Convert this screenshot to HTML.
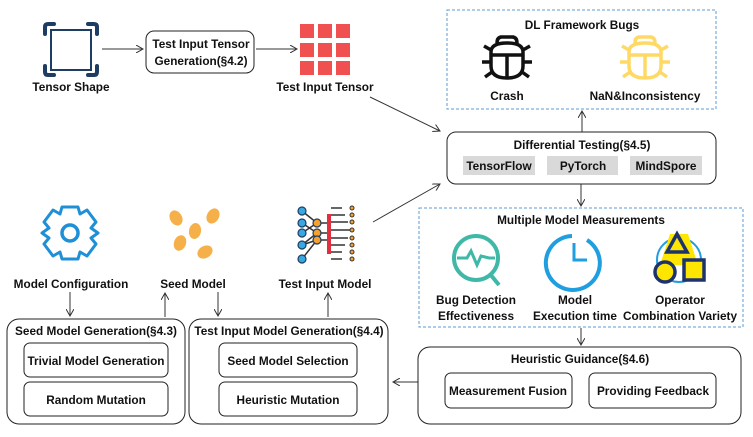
<!DOCTYPE html>
<html><head><meta charset="utf-8"><style>
body{margin:0;background:#fff;}
svg{display:block;font-family:"Liberation Sans",sans-serif;font-weight:bold;}
text{font-size:11.8px;fill:#111;text-anchor:middle;}
</style></head><body>
<svg width="753" height="437" viewBox="0 0 753 437" xmlns="http://www.w3.org/2000/svg">
<defs><marker id="a" markerWidth="8" markerHeight="8" refX="7" refY="4" orient="auto" markerUnits="userSpaceOnUse"><path d="M0,0 L7,4 L0,8" fill="none" stroke="#333" stroke-width="1"/></marker></defs>
<g stroke="#333" stroke-width="1" fill="none" marker-end="url(#a)">
<line x1="102" y1="49" x2="143" y2="49"/>
<line x1="256" y1="49" x2="297" y2="49"/>
<line x1="370" y1="97" x2="440" y2="131"/>
<line x1="373" y1="222" x2="440" y2="184"/>
<line x1="582" y1="132" x2="582" y2="111"/>
<line x1="581" y1="184" x2="581" y2="206"/>
<line x1="581" y1="328" x2="581" y2="345"/>
<line x1="418" y1="382" x2="393" y2="382"/>
<line x1="70" y1="292" x2="70" y2="316"/>
<line x1="165" y1="317" x2="165" y2="293"/>
<line x1="218" y1="292" x2="218" y2="316"/>
<line x1="328" y1="317" x2="328" y2="293"/>
</g>
<rect x="51" y="30" width="40" height="40" fill="none" stroke="#1d3d63" stroke-width="2"/>
<g stroke="#1d3d63" stroke-width="4" fill="none" stroke-linecap="round">
<path d="M45,34 V27 Q45,24 48,24 H54"/><path d="M88,24 H94 Q97,24 97,27 V34"/>
<path d="M45,66 V72 Q45,75 48,75 H54"/><path d="M88,75 H94 Q97,75 97,72 V66"/></g>
<text x="71" y="91">Tensor Shape</text>
<rect x="146" y="31" width="108" height="42" rx="8" fill="#fff" stroke="#222"/>
<text x="201" y="48">Test Input Tensor</text><text x="201" y="65">Generation(§4.2)</text>
<g fill="#f05050">
<rect x="300" y="24" width="14" height="14"/><rect x="318" y="24" width="14" height="14"/><rect x="336" y="24" width="14" height="14"/>
<rect x="300" y="43" width="14" height="14"/><rect x="318" y="43" width="14" height="14"/><rect x="336" y="43" width="14" height="14"/>
<rect x="300" y="61" width="14" height="14"/><rect x="318" y="61" width="14" height="14"/><rect x="336" y="61" width="14" height="14"/></g>
<text x="325" y="91">Test Input Tensor</text>
<rect x="447" y="10" width="269" height="99" fill="none" stroke="#5b9bd5" stroke-dasharray="3,2"/>
<text x="582" y="29">DL Framework Bugs</text>
<g fill="none" stroke-width="3.5">
<g stroke="#111"><path d="M491,60 V52 Q491,43 507,43 Q523,43 523,52 V66 Q523,78 507,78 Q491,78 491,66 Z"/><line x1="507" y1="55" x2="507" y2="78"/><line x1="491" y1="55" x2="523" y2="55"/><path d="M497,43 Q497,37 502,37 M517,43 Q517,37 512,37 M500,37 H514"/><path d="M491,50 L484,46 M523,50 L530,46 M491,62 H482 M523,62 H532 M492,72 L485,77 M522,72 L529,77"/></g>
<g stroke="#ffd966"><path d="M629,60 V52 Q629,43 645,43 Q661,43 661,52 V66 Q661,78 645,78 Q629,78 629,66 Z"/><line x1="645" y1="55" x2="645" y2="78"/><line x1="629" y1="55" x2="661" y2="55"/><path d="M635,43 Q635,37 640,37 M655,43 Q655,37 650,37 M638,37 H652"/><path d="M629,50 L622,46 M661,50 L668,46 M629,62 H620 M661,62 H670 M630,72 L623,77 M660,72 L667,77"/></g></g>
<text x="507" y="100">Crash</text><text x="645" y="100">NaN&amp;Inconsistency</text>
<rect x="447" y="132" width="269" height="52" rx="9" fill="#fff" stroke="#222"/>
<text x="582" y="149">Differential Testing(§4.5)</text>
<rect x="463" y="156" width="72" height="19" fill="#d9d9d9"/><text x="499" y="170">TensorFlow</text>
<rect x="547" y="156" width="71" height="19" fill="#d9d9d9"/><text x="583" y="170">PyTorch</text>
<rect x="630" y="156" width="72" height="19" fill="#d9d9d9"/><text x="666" y="170">MindSpore</text>
<rect x="419" y="208" width="324" height="119" fill="none" stroke="#5b9bd5" stroke-dasharray="3,2"/>
<text x="581" y="224">Multiple Model Measurements</text>
<circle cx="476" cy="258" r="22" fill="none" stroke="#3fb8a8" stroke-width="4"/>
<line x1="490" y1="274" x2="499" y2="285" stroke="#3fb8a8" stroke-width="4"/>
<polyline points="457,258 467,258 471,251 477,265 481,256 489,258 495,258" fill="none" stroke="#3fb8a8" stroke-width="3"/>
<path d="M587,240 A27,27 0 1 1 572,236" fill="none" stroke="#1f9ee0" stroke-width="4"/>
<polyline points="574,243 574,260 587,260" fill="none" stroke="#1f9ee0" stroke-width="3"/>
<circle cx="679" cy="260" r="22" fill="none" stroke="#1f9ee0" stroke-width="2"/>
<polygon points="670,234 688,234 698,265 660,265" fill="#ffe600"/>
<polygon points="677,234 667,252 687,252" fill="none" stroke="#1d3370" stroke-width="3.5"/>
<circle cx="665" cy="272" r="10" fill="#ffe600" stroke="#1d3370" stroke-width="3.5"/>
<rect x="684" y="260" width="20" height="20" fill="#ffe600" stroke="#1d3370" stroke-width="3.5"/>
<text x="476" y="304">Bug Detection</text><text x="476" y="320">Effectiveness</text>
<text x="575" y="304">Model</text><text x="575" y="320">Execution time</text>
<text x="680" y="304">Operator</text><text x="680" y="320">Combination Variety</text>
<rect x="418" y="347" width="323" height="77" rx="12" fill="#fff" stroke="#222"/>
<text x="580" y="363">Heuristic Guidance(§4.6)</text>
<rect x="445" y="373" width="127" height="35" rx="6" fill="none" stroke="#222"/><text x="508" y="395">Measurement Fusion</text>
<rect x="589" y="373" width="127" height="35" rx="6" fill="none" stroke="#222"/><text x="653" y="395">Providing Feedback</text>
<path d="M62,207 H78 L80,214 L87,210 L96,222 L91,228 L98,233 L91,238 L96,244 L87,256 L80,252 L78,259 H62 L60,252 L53,256 L44,244 L49,238 L42,233 L49,228 L44,222 L53,210 L60,214 Z" fill="none" stroke="#1f8fd6" stroke-width="3" stroke-linejoin="round"/>
<circle cx="70" cy="233" r="8" fill="none" stroke="#1f8fd6" stroke-width="3.5"/>
<g fill="#f5b04a">
<ellipse cx="176" cy="218" rx="6" ry="8" transform="rotate(-30 176 218)"/>
<ellipse cx="213" cy="216" rx="6" ry="8" transform="rotate(30 213 216)"/>
<ellipse cx="195" cy="231" rx="6" ry="8" transform="rotate(10 195 231)"/>
<ellipse cx="180" cy="243" rx="6" ry="8" transform="rotate(20 180 243)"/>
<ellipse cx="205" cy="252" rx="6" ry="8" transform="rotate(60 205 252)"/></g>
<g stroke="#333" stroke-width="1.5" fill="none">
<path d="M302,211 L317,223 M302,223 L317,233 M302,233 L317,223 M302,245 L317,233 M302,245 L317,240 M302,259 L317,240"/>
<path d="M331,208 H342 M331,215 H345 M331,222 H348 M331,230 H350 M331,238 H348 M331,245 H345 M331,252 H342 M331,259 H342"/>
<path d="M317,223 H328 M317,233 H328 M317,240 H328"/></g>
<rect x="327" y="214" width="4" height="40" fill="#e03040"/>
<g fill="#3aa8e0" stroke="#1d3d63" stroke-width="1.2"><circle cx="302" cy="211" r="4"/><circle cx="302" cy="223" r="4"/><circle cx="302" cy="233" r="4"/><circle cx="302" cy="245" r="4"/><circle cx="302" cy="259" r="4"/></g>
<g fill="#f5a030" stroke="#1d3d63" stroke-width="1.2"><circle cx="317" cy="223" r="4"/><circle cx="317" cy="233" r="4"/><circle cx="317" cy="240" r="4"/></g>
<g fill="#f5a030" stroke="#333"><circle cx="352" cy="208" r="2"/><circle cx="352" cy="215" r="2"/><circle cx="352" cy="222" r="2"/><circle cx="352" cy="230" r="2"/><circle cx="352" cy="238" r="2"/><circle cx="352" cy="245" r="2"/><circle cx="352" cy="252" r="2"/><circle cx="352" cy="259" r="2"/></g>
<text x="71" y="288">Model Configuration</text><text x="193" y="288">Seed Model</text><text x="325" y="288">Test Input Model</text>
<rect x="7" y="319" width="178" height="105" rx="12" fill="#fff" stroke="#222"/>
<text x="96" y="335">Seed Model Generation(§4.3)</text>
<rect x="24" y="343" width="144" height="34" rx="6" fill="none" stroke="#222"/><text x="96" y="365">Trivial Model Generation</text>
<rect x="24" y="382" width="144" height="34" rx="6" fill="none" stroke="#222"/><text x="96" y="404">Random Mutation</text>
<rect x="189" y="319" width="199" height="105" rx="12" fill="#fff" stroke="#222"/>
<text x="289" y="335">Test Input Model Generation(§4.4)</text>
<rect x="219" y="343" width="138" height="34" rx="6" fill="none" stroke="#222"/><text x="288" y="365">Seed Model Selection</text>
<rect x="219" y="382" width="138" height="34" rx="6" fill="none" stroke="#222"/><text x="288" y="404">Heuristic Mutation</text>
</svg>
</body></html>
